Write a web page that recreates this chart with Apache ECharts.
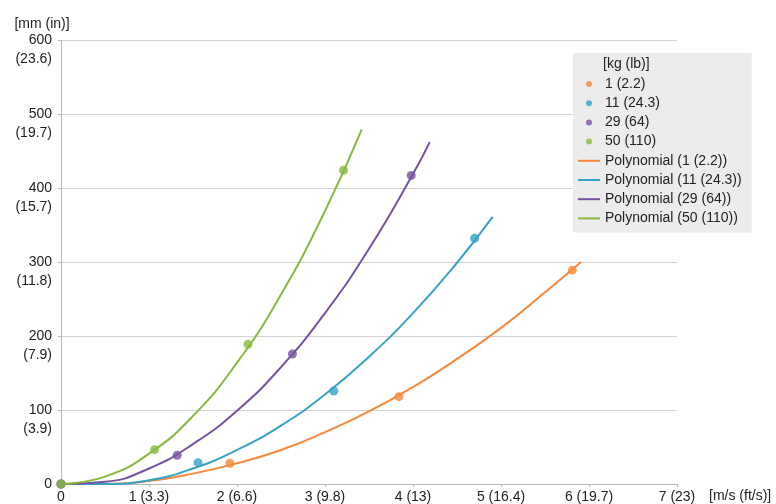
<!DOCTYPE html>
<html>
<head>
<meta charset="utf-8">
<script src="https://cdn.jsdelivr.net/npm/echarts@6/dist/echarts.min.js"></script>
<style>html,body{margin:0;padding:0;background:#fff}#c{width:776px;height:504px}</style>
</head>
<body>
<div id="c"></div>
<script>
// ---- data ----
const xTickLabels = ['0', '1 (3.3)', '2 (6.6)', '3 (9.8)', '4 (13)', '5 (16.4)', '6 (19.7)', '7 (23)'];
const yTickValues = [0, 100, 200, 300, 400, 500, 600];
const yTickInches = ['', '(3.9)', '(7.9)', '(11.8)', '(15.7)', '(19.7)', '(23.6)'];
const massNames = ['1 (2.2)', '11 (24.3)', '29 (64)', '50 (110)'];

// measured points [speed m/s, deformation mm]
const points1 = [[0, 0], [1.92, 28], [3.84, 118], [5.81, 289]];
const points11 = [[0, 0], [1.557, 28.8], [3.10, 125.7], [4.70, 332]];
const points29 = [[0, 0], [1.32, 38.8], [2.63, 175.7], [3.98, 417]];
const points50 = [[0, 0], [1.064, 46.4], [2.125, 188.8], [3.21, 424]];

// polynomial trend lines
const trend1 = [[0, 0], [0.5, 0], [1, 4], [1.5, 14], [2, 28], [2.5, 46], [3, 70], [3.5, 98], [4, 131], [4.5, 169], [5, 211], [5.5, 259], [5.91, 300]];
const trend11 = [[0, 0], [0.5, 0], [1, 5], [1.5, 21], [2, 46], [2.5, 79], [3, 121], [3.5, 172], [4, 231], [4.5, 299], [4.905, 361]];
const trend29 = [[0, 0], [0.5, 3], [1, 21], [1.5, 54], [2, 99], [2.5, 158], [3, 231], [3.5, 318], [4, 419], [4.19, 462]];
const trend50 = [[0, 0], [0.5, 10], [1, 41], [1.5, 92], [2, 164], [2.5, 256], [3, 369], [3.416, 479]];

const colors = ['#f5883a', '#36a3c6', '#7653a0', '#8ab93f'];
const FONT = 'Liberation Sans, Arial, sans-serif';

const scatterData = [points1, points11, points29, points50];
const trendData = [trend1, trend11, trend29, trend50];

const series = [];
massNames.forEach((n, i) => {
  series.push({
    name: n, type: 'scatter', data: scatterData[i], symbolSize: 9, z: 5,
    itemStyle: { color: colors[i] }
  });
});
massNames.forEach((n, i) => {
  series.push({
    name: 'Polynomial (' + n + ')', type: 'line', data: trendData[i], smooth: 0.5,
    symbol: 'none', showSymbol: false, z: 3,
    lineStyle: { color: colors[i], width: 2 }, itemStyle: { color: colors[i] }
  });
});

const chart = echarts.init(document.getElementById('c'), null, { renderer: 'canvas' });
chart.setOption({
  animation: false,
  textStyle: { fontFamily: FONT },
  grid: { left: 61, right: 99, top: 40, bottom: 20, containLabel: false },
  xAxis: {
    type: 'value', min: 0, max: 7, interval: 1,
    name: '[m/s (ft/s)]', nameLocation: 'end', nameGap: 32, nameMoveOverlap: false,
    nameTextStyle: { color: '#222', fontSize: 14, fontFamily: FONT, align: 'left', verticalAlign: 'top', padding: [5, 0, 0, 0] },
    axisLine: { show: true, lineStyle: { color: '#b8b8b8', width: 1 } },
    axisTick: { show: true, length: 3, lineStyle: { color: '#b8b8b8' } },
    splitLine: { show: false },
    axisLabel: { color: '#222', fontSize: 14, fontFamily: FONT, margin: 6,
      formatter: v => xTickLabels[Math.round(v)] }
  },
  yAxis: {
    type: 'value', min: 0, max: 600, interval: 100,
    name: '[mm (in)]', nameLocation: 'end', nameGap: 16, nameMoveOverlap: false,
    nameTextStyle: { color: '#222', fontSize: 14, fontFamily: FONT, align: 'center', verticalAlign: 'middle', padding: [0, 38, 0, 0] },
    axisLine: { show: true, lineStyle: { color: '#b8b8b8', width: 1 } },
    axisTick: { show: true, length: 3, lineStyle: { color: '#b8b8b8' } },
    splitLine: { show: true, lineStyle: { color: '#d2d2d2', width: 1 } },
    axisLabel: { color: '#222', fontSize: 14, fontFamily: FONT, margin: 9, lineHeight: 19, align: 'right', verticalAlign: 'middle',
      formatter: v => {
        const i = yTickValues.indexOf(v);
        const inch = yTickInches[i];
        return inch ? ' \n' + v + '\n' + inch : String(v);
      } }
  },
  legend: {
    orient: 'vertical', left: 573, top: 53, align: 'left',
    padding: [23, 10, 6, 4],
    backgroundColor: '#ececec',
    itemWidth: 22, itemHeight: 6, itemGap: 3.2,
    textStyle: { color: '#222', fontSize: 14, fontFamily: FONT, lineHeight: 16 },
    data: [
      { name: massNames[0], icon: 'circle' }, { name: massNames[1], icon: 'circle' },
      { name: massNames[2], icon: 'circle' }, { name: massNames[3], icon: 'circle' },
      { name: 'Polynomial (' + massNames[0] + ')', itemStyle: { opacity: 0 } },
      { name: 'Polynomial (' + massNames[1] + ')', itemStyle: { opacity: 0 } },
      { name: 'Polynomial (' + massNames[2] + ')', itemStyle: { opacity: 0 } },
      { name: 'Polynomial (' + massNames[3] + ')', itemStyle: { opacity: 0 } }
    ]
  },
  graphic: [{
    type: 'text', left: 603, top: 57, z: 100,
    style: { text: '[kg (lb)]', fill: '#222', font: '14px ' + FONT }
  }],
  series: series
});
</script>
</body>
</html>
